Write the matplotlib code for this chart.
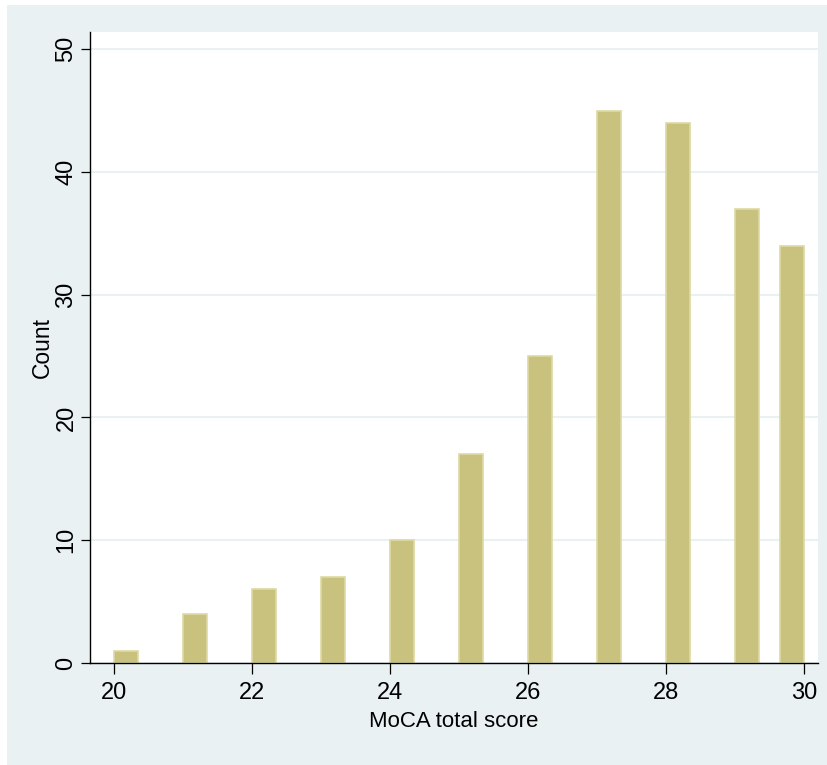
import numpy as np
import matplotlib.pyplot as plt
from matplotlib.patches import Rectangle

# MoCA total score distribution
scores = np.array([20, 21, 22, 23, 24, 25, 26, 27, 28, 29, 30])
counts = np.array([1, 4, 6, 7, 10, 17, 25, 45, 44, 37, 34])

bg = '#EAF1F3'
bar_fill = '#C9C27E'
bar_edge = '#DDD9A3'
width = 0.35

plt.rcParams['font.family'] = ['Liberation Sans', 'DejaVu Sans']

fig = plt.figure(figsize=(8.27, 7.65), dpi=100)
fig.patch.set_facecolor('white')
# graph region panel, behind the axes
fig.add_artist(Rectangle((7 / 827, 0), 1 - 7 / 827, 1 - 5 / 765,
                         transform=fig.transFigure, facecolor=bg,
                         edgecolor='none', zorder=-10))

ax = fig.add_axes([90 / 827, 1 - 663 / 765, (818 - 90) / 827, (663 - 32) / 765])
ax.set_facecolor('white')

# left-aligned bins, last one kept inside the data range
left = np.minimum(scores, scores.max() - width)
ax.bar(left, counts, width=width, align='edge', color=bar_fill,
       edgecolor=bar_edge, linewidth=1.2, zorder=3)

ax.set_xlim(19.652, 30.203)
ax.set_ylim(0, 51.4)
ax.set_xticks([20, 22, 24, 26, 28, 30])
ax.set_yticks([0, 10, 20, 30, 40, 50])
ax.yaxis.grid(True, color=bg, linewidth=1.5)
ax.set_axisbelow(True)

for s in ['top', 'right']:
    ax.spines[s].set_visible(False)
for s in ['left', 'bottom']:
    ax.spines[s].set_linewidth(1.0)
    ax.spines[s].set_zorder(4)

ax.tick_params(axis='y', length=6.5, width=0.9, pad=2.5, labelsize=17,
               labelrotation=90)
ax.tick_params(axis='x', length=8, width=0.9, pad=6, labelsize=17)
for lab in ax.get_yticklabels():
    lab.set_va('center')

ax.set_xlabel('MoCA total score', fontsize=16, labelpad=5)
ax.set_ylabel('Count', fontsize=16.5, labelpad=1.5)

fig.savefig('out.png', dpi=100)
